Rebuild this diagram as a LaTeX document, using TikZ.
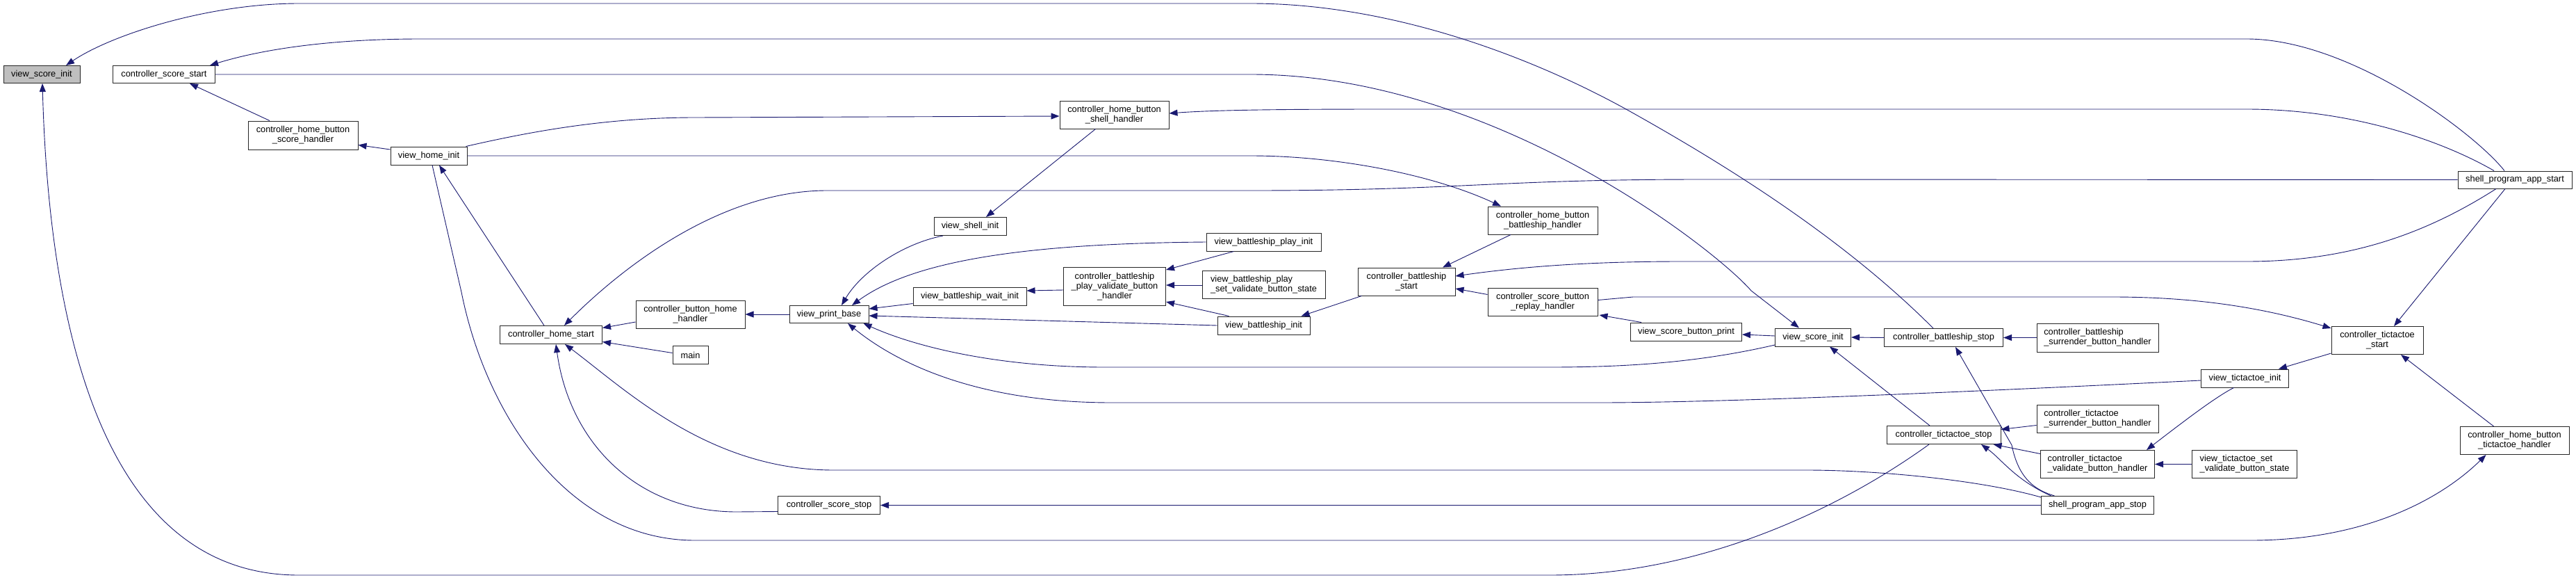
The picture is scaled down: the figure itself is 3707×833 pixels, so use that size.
\documentclass[tikz,border=0pt]{standalone}
\usepackage{fontspec}
\setmainfont{Liberation Sans}
\usetikzlibrary{arrows.meta,calc}
\definecolor{edgeblue}{RGB}{25,25,112}
\definecolor{nodegray}{RGB}{191,191,191}
\newcommand\dfont{\fontsize{12.8}{14}\selectfont}
\begin{document}
\begin{tikzpicture}[x=1pt,y=-1pt,
  box/.style={draw=black!85, line width=1pt, fill=white, inner sep=0pt, font=\dfont, align=center},
  lbox/.style={box, align=left},
  edge/.style={draw=edgeblue, line width=0.9pt, {Triangle[length=12pt,width=9pt]}-}]
\fill[white] (0,0) rectangle (3707,833);
\useasboundingbox (0,0) rectangle (3707,833);

% nodes
\node[box, fill=nodegray, minimum width=110pt, minimum height=25pt] (vsi) at (60,107) {view\_score\_init};
\node[box, minimum width=147pt, minimum height=25pt] (css) at (236,107) {controller\_score\_start};
\node[box, minimum width=158pt, minimum height=41pt] (chbsh) at (436,194.5) {controller\_home\_button\\\_score\_handler};
\node[box, minimum width=110pt, minimum height=26pt] (vhi) at (617,224) {view\_home\_init};
\node[box, minimum width=157pt, minimum height=40pt] (chbshell) at (1603.5,165) {controller\_home\_button\\\_shell\_handler};
\node[box, minimum width=158pt, minimum height=40pt] (chbbh) at (2220,317) {controller\_home\_button\\\_battleship\_handler};
\node[box, minimum width=164pt, minimum height=25pt] (spas) at (3619,258.5) {shell\_program\_app\_start};
\node[box, minimum width=104pt, minimum height=26pt] (vshi) at (1396,325.5) {view\_shell\_init};
\node[box, minimum width=165pt, minimum height=26pt] (vbpi) at (1818.5,348) {view\_battleship\_play\_init};
\node[box, minimum width=147pt, minimum height=55pt] (cbpvbh) at (1604,412) {controller\_battleship\\\_play\_validate\_button\\\_handler};
\node[lbox, minimum width=177pt, minimum height=40pt] (vbpsvbs) at (1818.5,409) {view\_battleship\_play\\\_set\_validate\_button\_state};
\node[box, minimum width=163pt, minimum height=26pt] (vbwi) at (1395.5,426.5) {view\_battleship\_wait\_init};
\node[box, minimum width=114pt, minimum height=25pt] (vpb) at (1193,452) {view\_print\_base};
\node[box, minimum width=157pt, minimum height=40pt] (cbhh) at (993.5,452) {controller\_button\_home\\\_handler};
\node[box, minimum width=147pt, minimum height=26pt] (chs) at (793,481.5) {controller\_home\_start};
\node[box, minimum width=51pt, minimum height=26pt] (main) at (993.5,510.5) {main};
\node[box, minimum width=133pt, minimum height=26pt] (vbi) at (1818.5,468) {view\_battleship\_init};
\node[box, minimum width=140pt, minimum height=40pt] (cbs) at (2024,405) {controller\_battleship\\\_start};
\node[box, minimum width=158pt, minimum height=40pt] (csbrh) at (2220,434.5) {controller\_score\_button\\\_replay\_handler};
\node[box, minimum width=160pt, minimum height=26pt] (vsbp) at (2426.5,477) {view\_score\_button\_print};
\node[box, minimum width=109pt, minimum height=26pt] (vsi2) at (2609,485) {view\_score\_init};
\node[box, minimum width=171pt, minimum height=26pt] (cbst) at (2797,485.5) {controller\_battleship\_stop};
\node[lbox, minimum width=175pt, minimum height=41pt] (cbsbh) at (3018.5,485.5) {controller\_battleship\\\_surrender\_button\_handler};
\node[box, minimum width=132pt, minimum height=40pt] (cts) at (3421,489.5) {controller\_tictactoe\\\_start};
\node[box, minimum width=126pt, minimum height=26pt] (vti) at (3230.5,544) {view\_tictactoe\_init};
\node[lbox, minimum width=175pt, minimum height=40pt] (ctsbh) at (3018.5,602.5) {controller\_tictactoe\\\_surrender\_button\_handler};
\node[box, minimum width=164pt, minimum height=26pt] (ctst) at (2797,625.5) {controller\_tictactoe\_stop};
\node[lbox, minimum width=164pt, minimum height=40pt] (ctvbh) at (3018.5,667.5) {controller\_tictactoe\\\_validate\_button\_handler};
\node[lbox, minimum width=151pt, minimum height=40pt] (vtsvbs) at (3230,667.5) {view\_tictactoe\_set\\\_validate\_button\_state};
\node[box, minimum width=162pt, minimum height=26pt] (spast) at (3018.5,726.5) {shell\_program\_app\_stop};
\node[box, minimum width=157pt, minimum height=40pt] (chbth) at (3618.5,633.5) {controller\_home\_button\\\_tictactoe\_handler};
\node[box, minimum width=147pt, minimum height=26pt] (css2) at (1193,726.5) {controller\_score\_stop};

% edges (arrow at callee)
\draw[edge] ($(vsi.north)+(35,0)$) .. controls (160,50) and (300,5) .. (430,5) -- (1800,5) .. controls (2000,5) and (2200,80) .. (2340,157) .. controls (2480,235) and (2650,340) .. ($(cbst.north)+(-15,0)$);
\draw[edge] ($(css.north east)+(-8,0)$) .. controls (380,70) and (480,56) .. (605,56) -- (3233,56) .. controls (3380,56) and (3560,190) .. ($(spas.north)+(-15,0)$);
\draw[edge] ($(vsi2.north)+(-20,0)$) -- (2520,418) .. controls (2470,360) and (2150,107) .. (1800,107) -- (css.east);
\draw[edge] ($(css.south)+(37,0)$) -- ($(chbsh.north)+(-48,0)$);
\draw[edge] ($(chbsh.east)+(0,14)$) -- ($(vhi.west)+(0,-9)$);
\draw[edge] ($(chbshell.west)+(0,2)$) -- (1000,169) .. controls (870,169) and (760,190) .. ($(vhi.north east)+(-2,0)$);
\draw[edge] ($(chbbh.north)+(-60,0)$) .. controls (2060,250) and (1920,224) .. (1800,224) -- (vhi.east);
\draw[edge] ($(chbshell.east)+(0,-2)$) .. controls (1750,158) and (1850,157) .. (2000,157) -- (3233,157) .. controls (3380,157) and (3510,200) .. ($(spas.north)+(-30,0)$);
\draw[edge] ($(chs.north)+(19,0)$) .. controls (900,380) and (1040,274) .. (1190,274) -- (1800,274) .. controls (2100,274) and (2150,258) .. (2450,258) -- (spas.west);
\draw[edge] ($(cbs.east)+(0,-8)$) .. controls (2200,382) and (2300,376) .. (2420,376) -- (3233,376) .. controls (3390,376) and (3500,330) .. ($(spas.south)+(-27,0)$);
\draw[edge] ($(cts.north)+(24,0)$) -- ($(spas.south)+(-14,0)$);
\draw[edge] ($(vshi.north)+(23,0)$) -- ($(chbshell.south)+(-27,0)$);
\draw[edge] ($(vpb.north)+(18,0)$) .. controls (1240,390) and (1300,350) .. ($(vshi.south)+(-39,0)$);
\draw[edge] ($(vpb.north)+(33,0)$) .. controls (1320,370) and (1500,350) .. (vbpi.west);
\draw[edge] ($(cbpvbh.north east)+(0,4)$) -- ($(vbpi.south)+(-43,0)$);
\draw[edge] ($(cbpvbh.east)+(0,-2)$) -- ($(vbpsvbs.west)+(0,1)$);
\draw[edge] ($(vbwi.east)+(0,-8.5)$) -- ($(cbpvbh.west)+(0,5)$);
\draw[edge] ($(vpb.east)+(0,-8)$) -- ($(vbwi.west)+(0,10)$);
\draw[edge] (cbhh.east) -- (vpb.west);
\draw[edge] ($(chs.east)+(0,-10)$) -- ($(cbhh.west)+(0,11)$);
\draw[edge] ($(chs.east)+(0,10)$) -- ($(main.west)+(0,-3)$);
\draw[edge] ($(vpb.east)+(0,2)$) -- (vbi.west);
\draw[edge] ($(cbpvbh.south east)+(0,-6)$) -- ($(vbi.north)+(-50,0)$);
\draw[edge] ($(vpb.south east)+(-8,0)$) .. controls (1320,500) and (1440,528) .. (1590,528) -- (2230,528) .. controls (2350,528) and (2450,520) .. ($(vsi2.west)+(0,11)$);
\draw[edge] ($(vpb.south)+(27,0)$) .. controls (1300,530) and (1420,579) .. (1600,579) -- (2300,579) .. controls (2500,579) and (2900,560) .. ($(vti.west)+(0,3)$);
\draw[edge] ($(vhi.south)+(15,0)$) -- ($(chs.north)+(-10,0)$);
\draw[edge] ($(chbth.south)+(-41,0)$) .. controls (3510,720) and (3400,777) .. (3239,777) -- (1000,777) .. controls (820,777) and (700,600) .. (664,420) -- ($(vhi.south)+(5,0)$);
\draw[edge] ($(chs.south)+(7,0)$) .. controls (820,640) and (920,736) .. (1060,736) -- ($(css2.west)+(0,9)$);
\draw[edge] ($(chs.south)+(20,0)$) .. controls (900,560) and (1020,676) .. (1200,676) -- (2600,676) .. controls (2700,676) and (2850,690) .. ($(spast.north west)+(0,2)$);
\draw[edge] ($(vsi.south)+(1,0)$) .. controls (70,450) and (140,827) .. (430,827) -- (2230,827) .. controls (2450,827) and (2650,730) .. ($(ctst.south)+(-21,0)$);
\draw[edge] ($(cts.north west)+(0,3)$) .. controls (3250,440) and (3150,427) .. (3040,427) -- (2350,427) -- ($(csbrh.east)+(0,-3)$);
\draw[edge] ($(cbs.east)+(0,10)$) -- ($(csbrh.west)+(0,-11)$);
\draw[edge] ($(vbi.north east)+(-13,0)$) -- ($(cbs.south west)+(6,0)$);
\draw[edge] ($(csbrh.south east)+(2,-2)$) -- ($(vsbp.north west)+(16,0)$);
\draw[edge] ($(vsbp.east)+(0,4)$) -- ($(vsi2.west)+(0,-2)$);
\draw[edge] ($(vsi2.south)+(24,0)$) -- ($(ctst.north)+(-20,0)$);
\draw[edge] (vsi2.east) -- (cbst.west);
\draw[edge] ($(cbs.north)+(52,0)$) -- ($(chbbh.south)+(-46,0)$);
\draw[edge] (cbst.east) -- (cbsbh.west);
\draw[edge] ($(cbst.south)+(17,0)$) -- (2895,640) .. controls (2905,690) and (2930,705) .. ($(spast.north)+(-62,0)$);
\draw[edge] ($(vti.north east)+(-15,0)$) -- ($(cts.south west)+(0,-2)$);
\draw[edge] ($(cts.south)+(34,0)$) -- ($(chbth.north)+(-30,0)$);
\draw[edge] ($(ctvbh.north east)+(-12,0)$) .. controls (3150,600) and (3190,570) .. ($(vti.south)+(-16,0)$);
\draw[edge] ($(ctst.east)+(0,-8)$) -- ($(ctsbh.west)+(0,9)$);
\draw[edge] ($(ctst.south east)+(-11,0)$) -- ($(ctvbh.west)+(0,-15)$);
\draw[edge] ($(ctst.south)+(54,0)$) .. controls (2880,660) and (2900,690) .. ($(spast.north)+(-67,0)$);
\draw[edge] (ctvbh.east) -- (vtsvbs.west);
\draw[edge] (css2.east) -- (spast.west);
\end{tikzpicture}
\end{document}
